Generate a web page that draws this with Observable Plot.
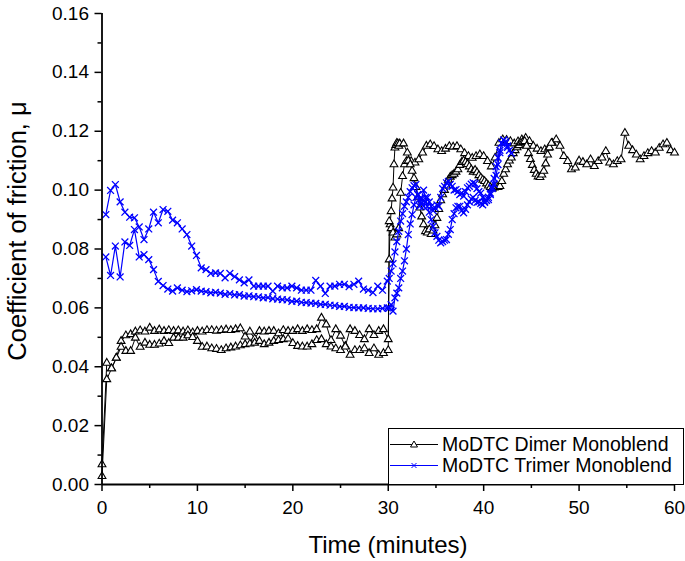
<!DOCTYPE html>
<html><head><meta charset="utf-8">
<script src="https://cdn.jsdelivr.net/npm/d3@7"></script>
<script src="https://cdn.jsdelivr.net/npm/@observablehq/plot@0.6"></script>
<style>
body{margin:0;background:#fff;font-family:"Liberation Sans",Arial,sans-serif;}
#wrap{position:relative;width:685px;height:561px;overflow:hidden;}
.xtitle{position:absolute;left:188px;width:400px;top:531px;line-height:28px;text-align:center;font-size:24px;color:#000;}
.ytitle{position:absolute;left:-183px;top:216px;width:400px;height:30px;line-height:30px;text-align:center;font-size:25.5px;color:#000;transform:rotate(-90deg);}
.legend{position:absolute;left:388px;top:428px;width:296px;height:57px;box-sizing:border-box;border:1px solid #000;background:#fff;}
.legend .row{position:absolute;left:0;height:21px;display:flex;align-items:center;font-size:19.5px;white-space:nowrap;}
.legend svg{display:block;margin-right:3px;}
</style></head><body><div id="wrap"></div>
<script>
// ---- tick values ----
const xTicks = [0, 10, 20, 30, 40, 50, 60];
const xMinorTicks = [5, 15, 25, 35, 45, 55];
const yTicks = [0, 0.02, 0.04, 0.06, 0.08, 0.10, 0.12, 0.14, 0.16];
const yMinorTicks = [0.01, 0.03, 0.05, 0.07, 0.09, 0.11, 0.13, 0.15];
const seriesNames = ["MoDTC Dimer Monoblend", "MoDTC Trimer Monoblend"];

// ---- MoDTC Dimer Monoblend, sweep 1 ----
// t = 0 .. 30 min every 0.5
const dimer1_0to30 = [0.0068,0.0413,0.0394,0.0430,0.0487,0.0506,0.0510,0.0519,0.0523,0.0519,
 0.0532,0.0521,0.0526,0.0521,0.0524,0.0521,0.0523,0.0519,0.0523,0.0516,
 0.0521,0.0519,0.0524,0.0524,0.0522,0.0524,0.0526,0.0524,0.0527,0.0530,
 0.0502,0.0519,0.0495,0.0521,0.0519,0.0521,0.0521,0.0513,0.0524,0.0521,
 0.0521,0.0527,0.0521,0.0527,0.0524,0.0527,0.0566,0.0543,0.0490,0.0527,
 0.0505,0.0470,0.0527,0.0521,0.0507,0.0493,0.0527,0.0507,0.0521,0.0527,
 0.0493];
// t = 30.1 .. 31.1 every 0.1
const dimer1_rise = [0.0764,0.0883,0.0928,0.0971,0.1008,0.1087,0.1144,0.1153,0.1160,0.1158,0.1150];
// t = 31.2 .. 60 every 0.4
const dimer1_31to60 = [0.1158,0.1158,0.1127,0.1098,0.1093,0.1104,0.1127,0.1150,0.1155,0.1149,
 0.1138,0.1132,0.1140,0.1149,0.1147,0.1149,0.1138,0.1125,0.1115,0.1109,
 0.1115,0.1121,0.1115,0.1098,0.1080,0.1110,0.1160,0.1172,0.1170,0.1166,
 0.1158,0.1165,0.1172,0.1177,0.1166,0.1150,0.1140,0.1132,0.1138,0.1143,
 0.1160,0.1172,0.1150,0.1115,0.1098,0.1070,0.1076,0.1100,0.1095,0.1087,
 0.1104,0.1081,0.1098,0.1110,0.1132,0.1093,0.1087,0.1098,0.1104,0.1194,
 0.1150,0.1135,0.1120,0.1104,0.1115,0.1125,0.1132,0.1127,0.1143,0.1155,
 0.1160,0.1135,0.1127];

// ---- MoDTC Dimer Monoblend, sweep 2 ----
// t = 0 .. 30 every 0.5
const dimer2_0to30 = [0.0028,0.0357,0.0394,0.0430,0.0467,0.0453,0.0453,0.0498,0.0467,0.0481,
 0.0474,0.0474,0.0478,0.0487,0.0480,0.0498,0.0498,0.0498,0.0506,0.0500,
 0.0487,0.0467,0.0468,0.0462,0.0460,0.0456,0.0462,0.0465,0.0468,0.0472,
 0.0476,0.0478,0.0481,0.0487,0.0476,0.0481,0.0487,0.0490,0.0493,0.0495,
 0.0480,0.0470,0.0468,0.0468,0.0476,0.0490,0.0493,0.0476,0.0468,0.0462,
 0.0456,0.0468,0.0440,0.0456,0.0456,0.0462,0.0446,0.0462,0.0440,0.0446,
 0.0456];
// t = 30.1 .. 47.1 every 0.2
const dimer2_30to47 = [0.0894,0.0870,0.0855,0.0838,0.0849,0.0870,0.0990,0.1047,0.1087,0.1098,
 0.1100,0.1087,0.1065,0.1040,0.1010,0.0975,0.0940,0.0910,0.0883,0.0860,
 0.0855,0.0866,0.0850,0.0862,0.0880,0.0905,0.0935,0.0965,0.0985,0.1000,
 0.1015,0.1035,0.1045,0.1050,0.1055,0.1062,0.1070,0.1085,0.1095,0.1100,
 0.1095,0.1088,0.1080,0.1070,0.1062,0.1068,0.1060,0.1050,0.1042,0.1035,
 0.1030,0.1022,0.1015,0.1010,0.1005,0.1008,0.1013,0.1010,0.1013,0.1030,
 0.1055,0.1070,0.1087,0.1100,0.1110,0.1125,0.1135,0.1145,0.1152,0.1160,
 0.1163,0.1166,0.1150,0.1125,0.1105,0.1085,0.1068,0.1055,0.1046,0.1044,
 0.1052,0.1065,0.1090,0.1120,0.1145,0.1160];

// ---- MoDTC Trimer Monoblend, sweep 1 ----
// t = 0.4 .. 29.9 every 0.5
const trimer1_0to30 = [0.0917,0.0999,0.1019,0.0960,0.0925,0.0908,0.0906,0.0875,0.0832,0.0868,
 0.0925,0.0889,0.0934,0.0928,0.0898,0.0889,0.0868,0.0849,0.0810,0.0778,
 0.0736,0.0730,0.0717,0.0719,0.0717,0.0702,0.0717,0.0706,0.0695,0.0685,
 0.0695,0.0674,0.0674,0.0674,0.0674,0.0657,0.0674,0.0668,0.0668,0.0674,
 0.0668,0.0660,0.0660,0.0660,0.0693,0.0674,0.0649,0.0674,0.0674,0.0680,
 0.0680,0.0672,0.0680,0.0691,0.0664,0.0660,0.0652,0.0674,0.0660,0.0691];
// t = 30.1 .. 42.5 every 0.2
const trimer1_30to43 = [0.0700,0.0725,0.0750,0.0790,0.0825,0.0860,0.0895,0.0920,0.0945,0.0960,
 0.0975,0.0995,0.1008,0.1015,0.1019,0.0985,0.0945,0.0970,0.1000,0.0975,
 0.0945,0.0925,0.0900,0.0877,0.0855,0.0843,0.0830,0.0821,0.0825,0.0830,
 0.0832,0.0850,0.0866,0.0900,0.0920,0.0940,0.0945,0.0945,0.0930,0.0923,
 0.0935,0.0950,0.0960,0.0970,0.0975,0.0965,0.0958,0.0960,0.0955,0.0950,
 0.0958,0.0965,0.0975,0.0990,0.1010,0.1040,0.1080,0.1110,0.1135,0.1160,
 0.1170,0.1160,0.1145];

// ---- MoDTC Trimer Monoblend, sweep 2 ----
// t = 0.4 .. 29.9 every 0.5
const trimer2_0to30 = [0.0773,0.0710,0.0810,0.0705,0.0824,0.0812,0.0866,0.0773,0.0781,0.0764,
 0.0730,0.0690,0.0676,0.0664,0.0657,0.0668,0.0660,0.0655,0.0658,0.0662,
 0.0657,0.0655,0.0651,0.0653,0.0650,0.0646,0.0648,0.0644,0.0645,0.0640,
 0.0641,0.0638,0.0637,0.0634,0.0635,0.0631,0.0630,0.0628,0.0627,0.0622,
 0.0623,0.0619,0.0618,0.0616,0.0615,0.0612,0.0612,0.0609,0.0608,0.0605,
 0.0605,0.0602,0.0601,0.0600,0.0600,0.0598,0.0597,0.0597,0.0598,0.0600];
// t = 30.1 .. 42.9 every 0.2
const trimer2_30to43 = [0.0600,0.0611,0.0589,0.0634,0.0650,0.0668,0.0700,0.0725,0.0760,0.0800,
 0.0849,0.0885,0.0917,0.0950,0.0975,0.0985,0.0970,0.0955,0.0945,0.0960,
 0.0975,0.0960,0.0945,0.0930,0.0940,0.0950,0.0945,0.0975,0.1005,0.1013,
 0.1025,0.1030,0.1020,0.1013,0.1000,0.1002,0.0995,0.0985,0.0990,0.0980,
 0.0995,0.1008,0.1013,0.1020,0.1025,0.1022,0.1005,0.0995,0.0990,0.0975,
 0.0962,0.0965,0.0968,0.0985,0.1005,0.1020,0.1050,0.1087,0.1127,0.1160,
 0.1170,0.1165,0.1150,0.1135,0.1125];

// sampling of each recorded segment (start time, interval in minutes)
const segments = [
  {series: "dimer", trace: "d1", start: 0, step: 0.5, values: dimer1_0to30},
  {series: "dimer", trace: "d1", start: 30.1, step: 0.1, values: dimer1_rise},
  {series: "dimer", trace: "d1", start: 31.2, step: 0.4, values: dimer1_31to60},
  {series: "dimer", trace: "d2", start: 0, step: 0.5, values: dimer2_0to30},
  {series: "dimer", trace: "d2", start: 30.1, step: 0.2, values: dimer2_30to47},
  {series: "trimer", trace: "t1", start: 0.4, step: 0.5, values: trimer1_0to30},
  {series: "trimer", trace: "t1", start: 30.1, step: 0.2, values: trimer1_30to43},
  {series: "trimer", trace: "t2", start: 0.4, step: 0.5, values: trimer2_0to30},
  {series: "trimer", trace: "t2", start: 30.1, step: 0.2, values: trimer2_30to43}
];
const points = segments.flatMap(s => s.values.map((v, i) => ({
  series: s.series, trace: s.trace, t: +(s.start + i * s.step).toFixed(3), mu: v
})));
const dimer = points.filter(d => d.series === "dimer");
const trimer = points.filter(d => d.series === "trimer");

const BLUE = "#0000ff";
const chart = Plot.plot({
  width: 685, height: 561,
  marginLeft: 101.5, marginRight: 11, marginTop: 13, marginBottom: 77,
  x: {domain: [0, 60]},
  y: {domain: [0, 0.16]},
  style: {fontFamily: "'Liberation Sans', Arial, sans-serif", fontSize: "19px", color: "#000", background: "#fff", overflow: "visible"},
  marks: [
    Plot.axisX({ticks: xMinorTicks, tickSize: 4, tickFormat: () => "", label: null, strokeWidth: 1.5}),
    Plot.axisX({ticks: xTicks, tickSize: 7, tickPadding: 9, tickFormat: d => String(d), label: null, strokeWidth: 1.5, fontSize: 19}),
    Plot.axisY({ticks: yMinorTicks, tickSize: 4, tickFormat: () => "", label: null, strokeWidth: 1.5}),
    Plot.axisY({ticks: yTicks, tickSize: 7, tickPadding: 6, tickFormat: d => d.toFixed(2), label: null, strokeWidth: 1.5, fontSize: 19}),
    Plot.line(dimer, {x: "t", y: "mu", z: "trace", stroke: "#000", strokeWidth: 1}),
    Plot.dot(dimer, {x: "t", y: "mu", symbol: "triangle", r: 2.9, fill: "#fff", stroke: "#000", strokeWidth: 1.1}),
    Plot.line(trimer, {x: "t", y: "mu", z: "trace", stroke: BLUE, strokeWidth: 1.2}),
    Plot.dot(trimer, {x: "t", y: "mu", symbol: "times", r: 3.2, stroke: BLUE, strokeWidth: 1.3}),
    Plot.ruleX([0], {strokeWidth: 1.8}),
    Plot.ruleY([0], {strokeWidth: 1.8})
  ]
});

const wrap = document.getElementById("wrap");
wrap.appendChild(chart);

const xt = document.createElement("div");
xt.className = "xtitle"; xt.textContent = "Time (minutes)";
wrap.appendChild(xt);
const yt = document.createElement("div");
yt.className = "ytitle"; yt.textContent = "Coefficient of friction, \u03bc";
wrap.appendChild(yt);

// legend
const lg = document.createElement("div");
lg.className = "legend";
const tri = '<path d="M25,7 L28.5,13 L21.5,13 Z" fill="#fff" stroke="#000" stroke-width="1"/>';
const cross = `<path d="M22.5,8 L27.5,13 M27.5,8 L22.5,13" stroke="${BLUE}" stroke-width="1"/>`;
const rows = [
  {name: seriesNames[0], color: "#000", marker: tri, top: 5},
  {name: seriesNames[1], color: BLUE, marker: cross, top: 26}
];
rows.forEach(r => {
  const row = document.createElement("div");
  row.className = "row";
  row.style.top = r.top + "px";
  row.innerHTML = `<svg width="50" height="21"><line x1="1" x2="49" y1="10.5" y2="10.5" stroke="${r.color}" stroke-width="1"/>${r.marker}</svg><span>${r.name}</span>`;
  lg.appendChild(row);
});
wrap.appendChild(lg);
</script>
</body></html>
